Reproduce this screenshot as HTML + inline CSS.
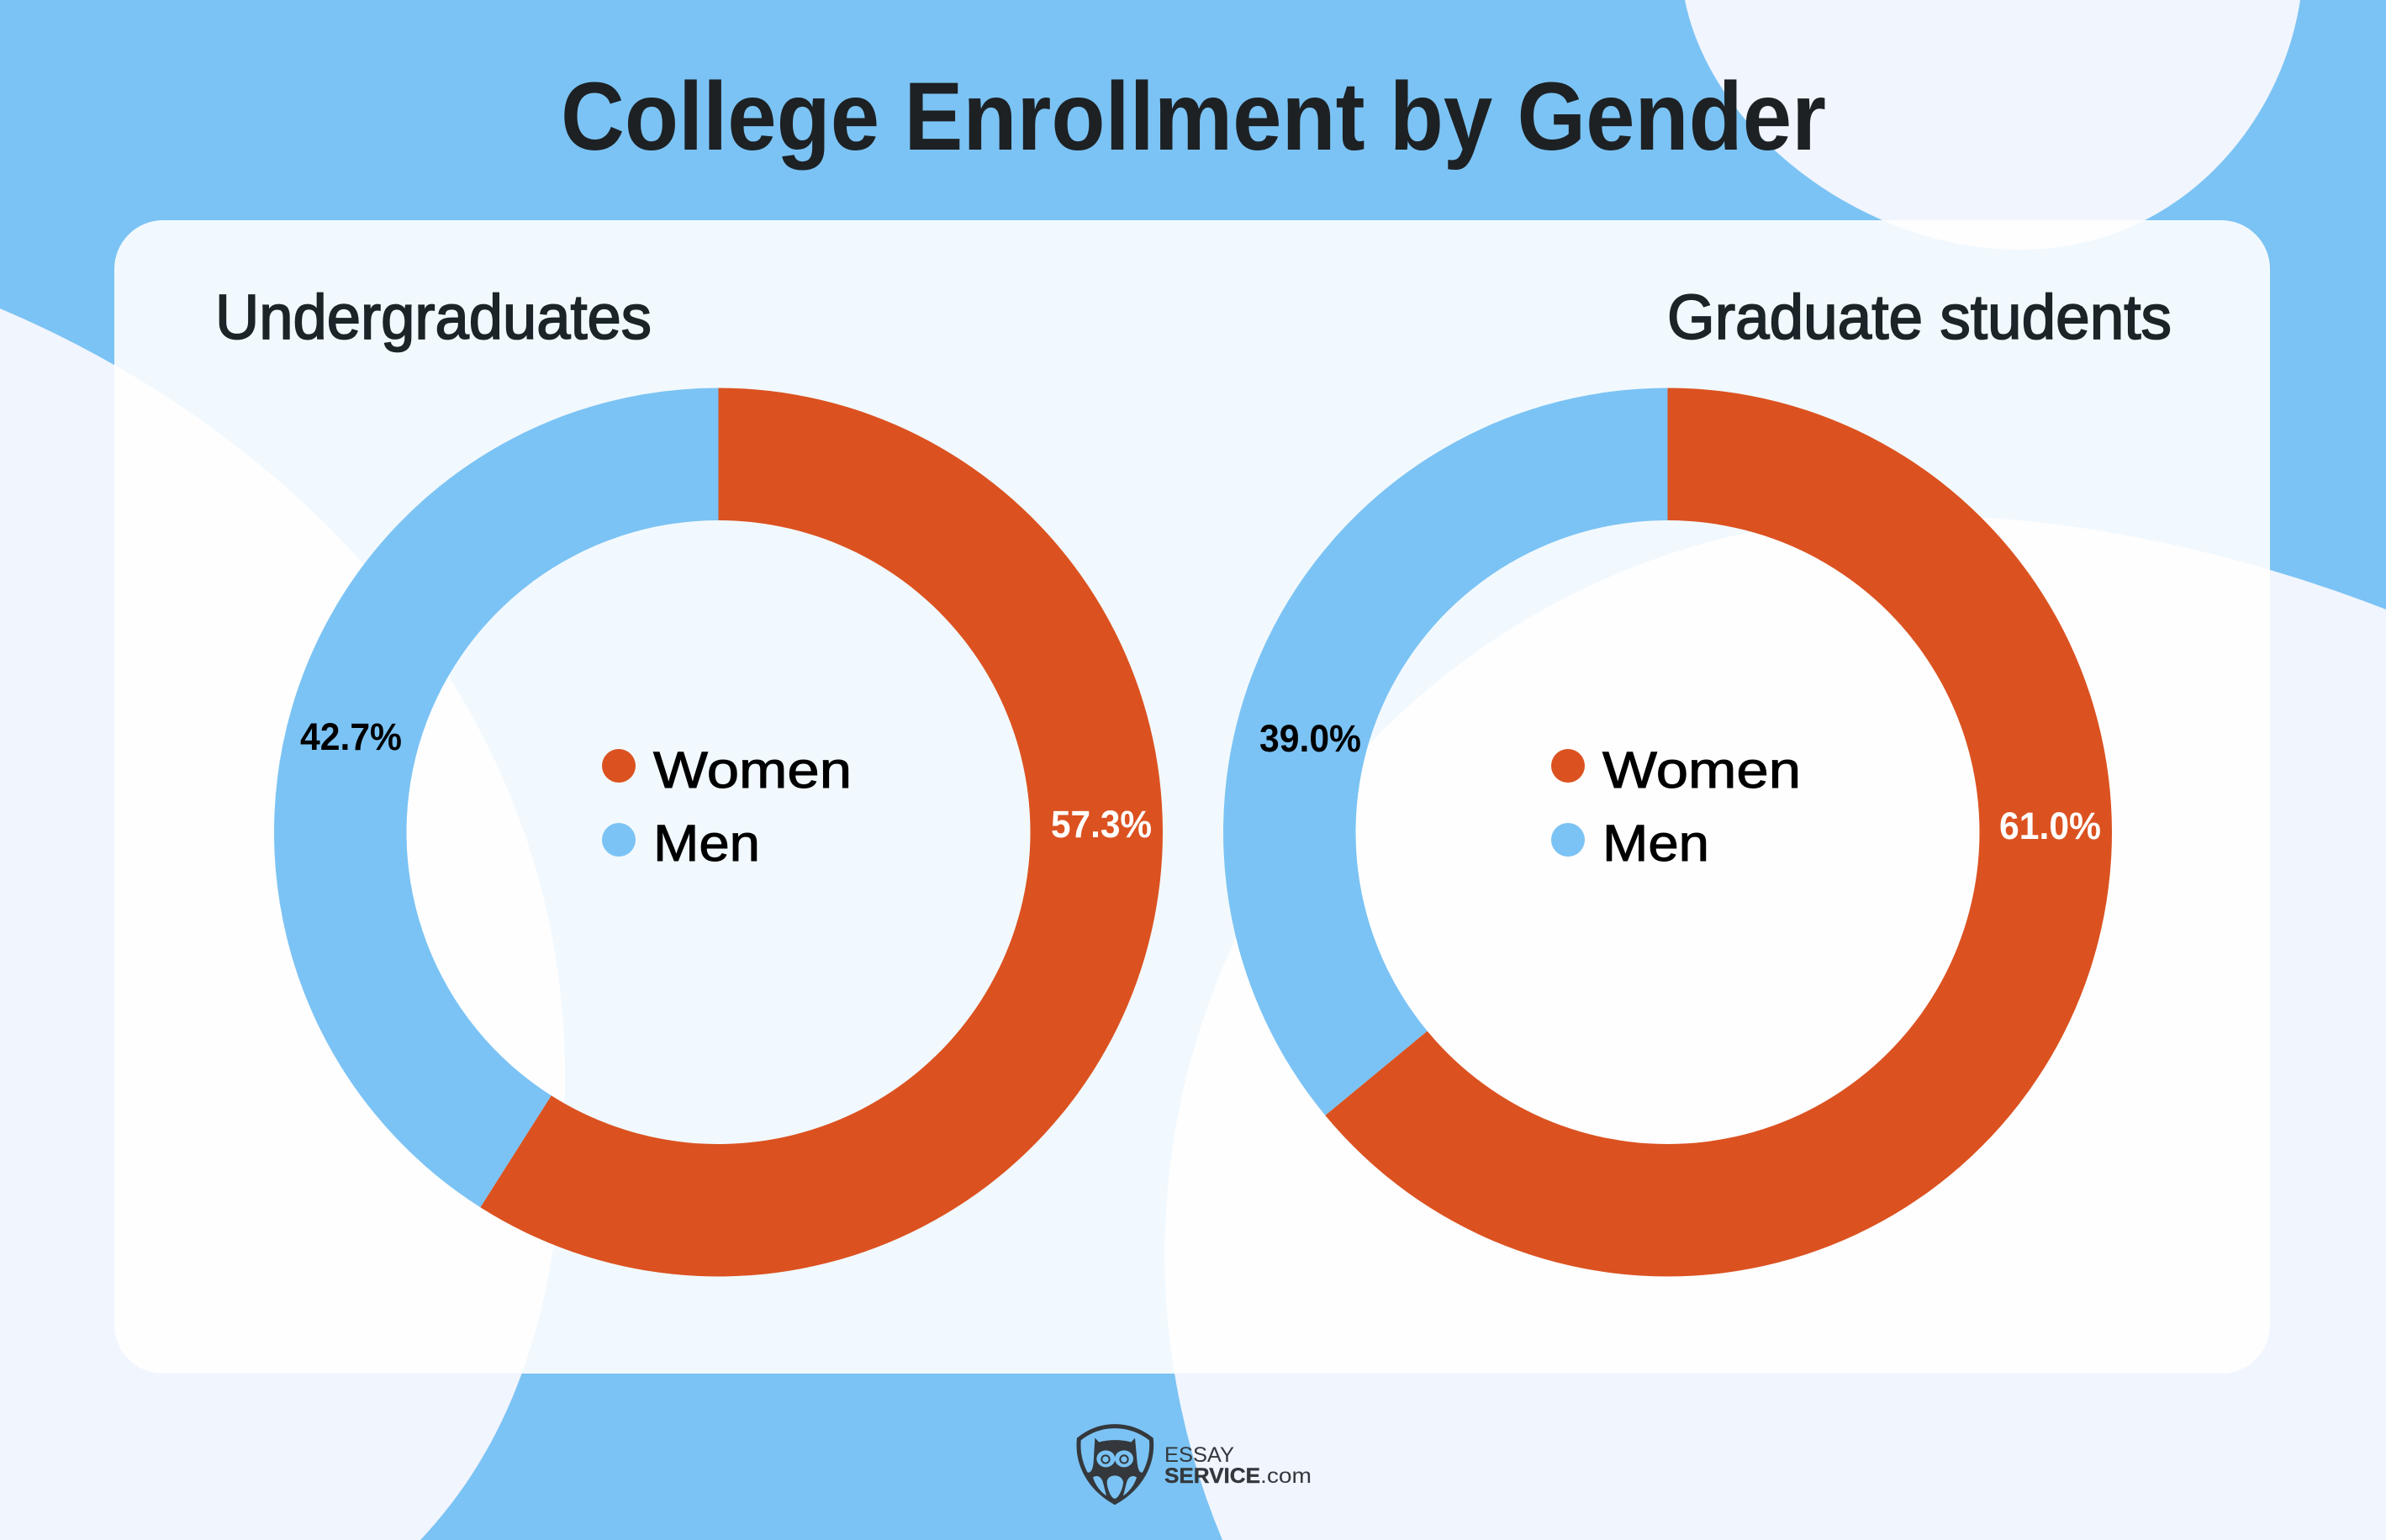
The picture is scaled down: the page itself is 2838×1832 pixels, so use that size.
<!DOCTYPE html>
<html lang="en">
<head>
<meta charset="utf-8">
<title>College Enrollment by Gender</title>
<style>
html,body{margin:0;padding:0;background:#7BC3F4;}
body{width:2838px;height:1832px;overflow:hidden;}
svg{display:block;}
text{font-family:"Liberation Sans",sans-serif;}
</style>
</head>
<body>
<svg id="chart" xmlns="http://www.w3.org/2000/svg" width="2838" height="1832" viewBox="0 0 2838 1832">
  <rect x="0" y="0" width="2838" height="1832" fill="#7BC3F4"/>
  <path d="M2004,0 C2036,160 2220,297 2402,297 C2590,297 2713,150 2736,0 Z" fill="#F1F5FE"/>
  <path d="M0,367 C350,515 672,835 672,1280 C672,1500 634,1690 500,1832 L0,1832 Z" fill="#F1F5FE"/>
  <path d="M1454,1832 A878,878 0 0 1 2272,614 C2430,610 2640,648 2838,725 L2838,1832 Z" fill="#F1F5FE"/>
  <rect x="136" y="262" width="2564" height="1372" rx="58" ry="58" fill="#FFFFFF" fill-opacity="0.9"/>

  <text x="667" y="178" font-size="115" font-weight="700" fill="#1D2124" textLength="1505" lengthAdjust="spacingAndGlyphs">College Enrollment by Gender</text>
  <text x="256" y="403" font-size="75" fill="#1B2428" stroke="#1B2428" stroke-width="1.8" textLength="519" lengthAdjust="spacingAndGlyphs">Undergraduates</text>
  <text x="1983" y="403" font-size="75" fill="#1B2428" stroke="#1B2428" stroke-width="1.8" textLength="600" lengthAdjust="spacingAndGlyphs">Graduate students</text>

  <g id="donuts"></g>

  <g>
    <ellipse cx="736" cy="911" rx="20" ry="20" fill="#DB5220"/>
    <text x="777" y="937" font-size="61" fill="#000" stroke="#000" stroke-width="1" textLength="236" lengthAdjust="spacingAndGlyphs">Women</text>
    <ellipse cx="736" cy="999" rx="20" ry="20" fill="#7BC3F4"/>
    <text x="777" y="1024" font-size="61" fill="#000" stroke="#000" stroke-width="1" textLength="127" lengthAdjust="spacingAndGlyphs">Men</text>
  </g>
  <g>
    <ellipse cx="1865" cy="911" rx="20" ry="20" fill="#DB5220"/>
    <text x="1906" y="937" font-size="61" fill="#000" stroke="#000" stroke-width="1" textLength="236" lengthAdjust="spacingAndGlyphs">Women</text>
    <ellipse cx="1865" cy="999" rx="20" ry="20" fill="#7BC3F4"/>
    <text x="1906" y="1024" font-size="61" fill="#000" stroke="#000" stroke-width="1" textLength="127" lengthAdjust="spacingAndGlyphs">Men</text>
  </g>

  <g>
    <g transform="translate(1270,1680) scale(0.33333)">
      <path d="M168,50 C220,50 262,68 298,96 C306,180 265,268 168,322 C72,268 32,180 40,96 C75,68 116,50 168,50 Z" fill="none" stroke="#34383C" stroke-width="15"/>
      <path d="M97,92 L112,107 C145,97 195,97 226,107 L240,92 L248,180 C252,215 262,225 278,205 C258,260 215,305 168,328 C120,305 80,260 60,205 C75,225 88,215 92,180 Z" fill="#34383C"/>
      <ellipse cx="136" cy="166" rx="33" ry="30" fill="#7BC3F4"/>
      <ellipse cx="201" cy="166" rx="33" ry="30" fill="#7BC3F4"/>
      <circle cx="135" cy="168" r="14" fill="none" stroke="#34383C" stroke-width="6"/>
      <circle cx="201" cy="168" r="14" fill="none" stroke="#34383C" stroke-width="6"/>
      <path d="M140,250 C140,218 195,218 198,250 C198,270 180,310 168,308 C155,310 140,270 140,250 Z" fill="#7BC3F4"/>
      <path d="M90,232 C108,222 122,232 127,255 L138,298 C118,285 98,260 90,232 Z" fill="#7BC3F4"/>
      <path d="M246,232 C228,222 214,232 209,255 L198,298 C218,285 238,260 246,232 Z" fill="#7BC3F4"/>
    </g>
    <text x="1385" y="1739" font-size="25" fill="#34383C" textLength="83" lengthAdjust="spacingAndGlyphs">ESSAY</text>
    <text x="1385" y="1764" font-size="25" font-weight="700" fill="#34383C" stroke="#34383C" stroke-width="0.4" textLength="114" lengthAdjust="spacingAndGlyphs">SERVICE</text>
    <text x="1499" y="1764" font-size="25" fill="#34383C" textLength="61" lengthAdjust="spacingAndGlyphs">.com</text>
  </g>
</svg>

<script>
// the printed labels in the picture differ from the drawn arcs, so both are kept.
const categories = ['women', 'men'];
const undergraduateShares = [59.0, 41.0];
const graduateShares = [64.0, 36.0];
const undergraduateLabels = ['57.3%', '42.7%'];
const graduateLabels = ['61.0%', '39.0%'];

const SVG_NS = 'http://www.w3.org/2000/svg';
const seriesColors = { women: '#DB5220', men: '#7BC3F4' };
const labelColors = { women: '#FFFFFF', men: '#000000' };
const OUTER_RADIUS = 528.5;
const INNER_RADIUS = 371;
const CENTER_Y = 990;

// Angle axis: cumulative share -> radians clockwise from 12 o'clock.
function angleScale(cumulative, total) {
  return (cumulative / total) * 2 * Math.PI;
}
function polar(cx, cy, radius, angle) {
  return [cx + radius * Math.sin(angle), cy - radius * Math.cos(angle)];
}
function wedgePath(cx, cy, a0, a1) {
  const large = a1 - a0 > Math.PI ? 1 : 0;
  const p0 = polar(cx, cy, OUTER_RADIUS, a0);
  const p1 = polar(cx, cy, OUTER_RADIUS, a1);
  const p2 = polar(cx, cy, INNER_RADIUS, a1);
  const p3 = polar(cx, cy, INNER_RADIUS, a0);
  return 'M' + p0[0] + ',' + p0[1] +
    ' A' + OUTER_RADIUS + ',' + OUTER_RADIUS + ' 0 ' + large + ' 1 ' + p1[0] + ',' + p1[1] +
    ' L' + p2[0] + ',' + p2[1] +
    ' A' + INNER_RADIUS + ',' + INNER_RADIUS + ' 0 ' + large + ' 0 ' + p3[0] + ',' + p3[1] + ' Z';
}

function drawDonut(parent, chartName, cx, shares, labels, labelPlacement) {
  const group = document.createElementNS(SVG_NS, 'g');
  
  
  parent.appendChild(group);

  const total = shares.reduce(function (sum, v) { return sum + v; }, 0);
  let cumulative = 0;
  shares.forEach(function (value, i) {
    const a0 = angleScale(cumulative, total);
    cumulative += value;
    const a1 = angleScale(cumulative, total);
    const slice = document.createElementNS(SVG_NS, 'path');
    slice.setAttribute('d', wedgePath(cx, CENTER_Y, a0, a1));
    slice.setAttribute('fill', seriesColors[categories[i]]);
    
    
    group.appendChild(slice);
  });

  labels.forEach(function (label, i) {
    const text = document.createElementNS(SVG_NS, 'text');
    text.setAttribute('x', cx + labelPlacement[i][0]);
    text.setAttribute('y', CENTER_Y + labelPlacement[i][1]);
    text.setAttribute('font-size', '45');
    text.setAttribute('font-weight', '700');
    text.setAttribute('fill', labelColors[categories[i]]);
    text.setAttribute('textLength', labelPlacement[i][2]);
    text.setAttribute('lengthAdjust', 'spacingAndGlyphs');
    
    
    text.textContent = label;
    group.appendChild(text);
  });
}

const donuts = document.getElementById('donuts');
drawDonut(donuts, 'undergraduates-donut', 854.5, undergraduateShares, undergraduateLabels,
  [[395.5, 6, 120], [-497.5, -98, 121]]);
drawDonut(donuts, 'graduate-students-donut', 1983.5, graduateShares, graduateLabels,
  [[394.5, 8, 121], [-485.5, -96, 121]]);
</script>
</body>
</html>
